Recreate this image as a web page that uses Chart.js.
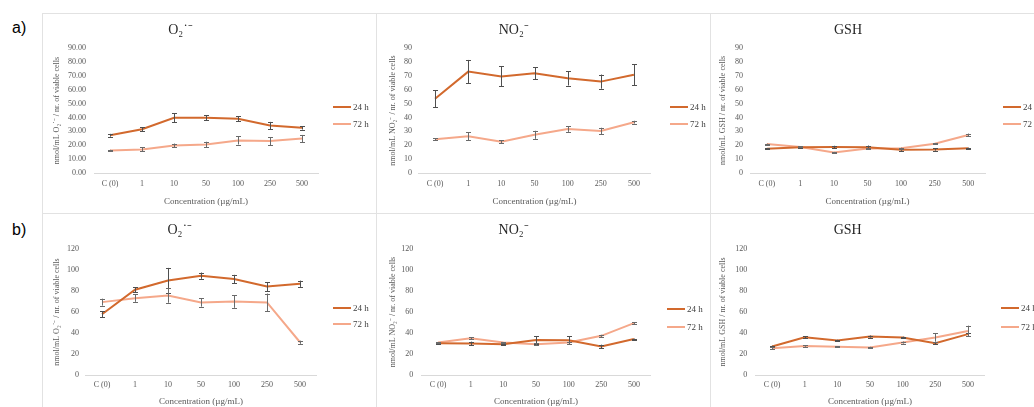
<!DOCTYPE html>
<html><head><meta charset="utf-8">
<script src="https://cdn.jsdelivr.net/npm/chart.js@4/dist/chart.umd.min.js"></script>
<style>
html,body{margin:0;padding:0;background:#fff;width:1034px;height:407px;overflow:hidden;position:relative;font-family:"Liberation Serif",serif;}
.vl{position:absolute;width:1px;background:#e2e2e2;}
.hl{position:absolute;height:1px;background:#e2e2e2;}
canvas{position:absolute;}
.lab{position:absolute;font-family:"Liberation Sans",Arial,sans-serif;font-size:16px;color:#000;line-height:16px;}
.leg{position:absolute;font-size:9px;color:#404040;line-height:10px;white-space:nowrap;}
.leg span{display:inline-block;width:18px;height:2px;vertical-align:middle;margin-right:2px;position:relative;top:-1px;}
</style></head><body>
<div class="hl" style="left:42px;top:13px;width:992px"></div>
<div class="hl" style="left:42px;top:213px;width:992px"></div>
<div class="vl" style="left:42px;top:13px;height:394px"></div>
<div class="vl" style="left:376px;top:13px;height:394px"></div>
<div class="vl" style="left:710px;top:13px;height:394px"></div>
<div class="lab" style="left:12px;top:20px">a)</div>
<div class="lab" style="left:12px;top:222px">b)</div>
<script>
// ---- data ----
const categories = ['C (0)', '1', '10', '50', '100', '250', '500'];
const seriesNames = ['24 h', '72 h'];
const xAxisTitle = 'Concentration (µg/mL)';
const panelTitles = ['O₂˙⁻', 'NO₂⁻', 'GSH'];
const yTitlesA = ['nmol/mL O₂˙⁻ / nr. of viable cells', 'nmol/mL NO₂⁻ / nr. of viable cells', 'nmol/mL GSH / nr. of viable cells'];
const yTitlesB = ['nmol/mL O₂˙⁻ / nr. of viable cells', 'nmol/mL NO₂⁻ / nr. of viable cells', 'nmol/mL GSH / nr. of viable cells'];

// a) O2
const aO2_24 = [27.2, 31.5, 39.8, 39.8, 39.0, 34.2, 32.5];
const aO2_24err = [1.0, 1.4, 3.4, 1.8, 1.8, 2.6, 1.2];
const aO2_72 = [16.2, 17.0, 19.8, 20.6, 23.4, 23.0, 24.8];
const aO2_72err = [0.5, 1.4, 1.4, 1.9, 2.9, 2.9, 2.6];
// a) NO2
const aNO2_24 = [53.5, 73.0, 69.5, 71.8, 68.2, 65.8, 70.8];
const aNO2_24err = [6.0, 8.4, 7.2, 4.2, 5.2, 5.1, 7.6];
const aNO2_72 = [24.3, 26.5, 22.5, 27.5, 31.6, 30.3, 36.6];
const aNO2_72err = [0.8, 2.9, 1.0, 2.9, 2.0, 2.3, 1.0];
// a) GSH
const aGSH_24 = [17.4, 18.6, 18.8, 18.6, 16.8, 16.9, 17.9];
const aGSH_24err = [0.3, 0.8, 0.8, 1.2, 0.8, 0.8, 0.4];
const aGSH_72 = [20.8, 18.8, 14.8, 17.6, 17.8, 21.0, 27.4];
const aGSH_72err = [0.3, 0.4, 0.4, 0.6, 0.4, 0.4, 1.0];
// b) O2
const bO2_24 = [57.8, 81.2, 90.0, 94.6, 91.4, 84.2, 86.9];
const bO2_24err = [2.9, 2.2, 12.0, 3.0, 4.0, 4.3, 3.0];
const bO2_72 = [69.4, 73.2, 75.8, 69.1, 70.0, 69.1, 31.2];
const bO2_72err = [3.3, 3.5, 7.0, 4.0, 6.0, 8.5, 1.5];
// b) NO2
const bNO2_24 = [30.3, 30.0, 29.4, 33.4, 33.1, 27.1, 34.2];
const bNO2_24err = [0.5, 1.8, 0.5, 3.5, 3.8, 1.8, 0.5];
const bNO2_72 = [30.9, 35.0, 30.9, 29.4, 30.9, 37.3, 49.4];
const bNO2_72err = [0.5, 0.8, 0.5, 1.0, 1.0, 1.0, 0.8];
// b) GSH
const bGSH_24 = [27.1, 36.0, 32.8, 36.6, 35.7, 30.3, 38.9];
const bGSH_24err = [0.8, 1.0, 0.8, 1.0, 0.8, 0.8, 1.5];
const bGSH_72 = [25.5, 27.7, 26.8, 26.1, 30.9, 35.7, 42.0];
const bGSH_72err = [0.8, 0.8, 0.5, 0.8, 1.0, 4.0, 5.0];

// ---- styles / layout ----
const SERIF = '"Liberation Serif", "Times New Roman", serif';
const C24 = '#D2692D';
const C72 = '#F5A88A';
const TICK = '#595959';

const rowA = {ct: 14, ch: 199, T: 48, B: 173, titleY: 30, xTitleY: 202, xTickPad: 6, yMax: 90, step: 10};
const rowB = {ct: 214, ch: 193, T: 249, B: 375, titleY: 230, xTitleY: 402, xTickPad: 5.5, yMax: 120, step: 20};

const panels = [
  {row: rowA, cl: 43, L: 94, R: 318, yTitleX: 57, yTickPad: 8, legX: 333, legY: [107, 124], title: panelTitles[0], yTitle: yTitlesA[0], dec: 2,
   d24: aO2_24, e24: aO2_24err, d72: aO2_72, e72: aO2_72err},
  {row: rowA, cl: 377, L: 418.5, R: 650.5, yTitleX: 393, yTickPad: 6.5, legX: 670, legY: [107, 124], title: panelTitles[1], yTitle: yTitlesA[1], dec: 0,
   d24: aNO2_24, e24: aNO2_24err, d72: aNO2_72, e72: aNO2_72err},
  {row: rowA, cl: 711, L: 750, R: 985, yTitleX: 723, yTickPad: 7, legX: 1003, legY: [107, 124], title: panelTitles[2], yTitle: yTitlesA[2], dec: 0,
   d24: aGSH_24, e24: aGSH_24err, d72: aGSH_72, e72: aGSH_72err},
  {row: rowB, cl: 43, L: 85.5, R: 316.5, yTitleX: 57, yTickPad: 6.5, legX: 333, legY: [308, 324], title: panelTitles[0], yTitle: yTitlesB[0], dec: 0,
   d24: bO2_24, e24: bO2_24err, d72: bO2_72, e72: bO2_72err},
  {row: rowB, cl: 377, L: 421.7, R: 650.3, yTitleX: 393, yTickPad: 8.5, legX: 667, legY: [309, 327], title: panelTitles[1], yTitle: yTitlesB[1], dec: 0,
   d24: bNO2_24, e24: bNO2_24err, d72: bNO2_72, e72: bNO2_72err},
  {row: rowB, cl: 711, L: 755.7, R: 984.3, yTitleX: 723, yTickPad: 8.5, legX: 1001, legY: [308, 327], title: panelTitles[2], yTitle: yTitlesB[2], dec: 0,
   d24: bGSH_24, e24: bGSH_24err, d72: bGSH_72, e72: bGSH_72err}
];

const errorBars = {
  id: 'errorBars',
  afterDatasetsDraw(chart) {
    const ctx = chart.ctx, ys = chart.scales.y;
    chart.data.datasets.forEach((ds, di) => {
      if (!ds.errors) return;
      const meta = chart.getDatasetMeta(di);
      ctx.save();
      ctx.strokeStyle = ds.errorColor;
      ctx.lineWidth = 1;
      meta.data.forEach((pt, i) => {
        const v = ds.data[i], e = ds.errors[i];
        const yt = ys.getPixelForValue(v + e), yb = ys.getPixelForValue(v - e);
        const x = Math.round(pt.x) + 0.5;
        ctx.beginPath();
        ctx.moveTo(x, yt); ctx.lineTo(x, yb);
        ctx.moveTo(x - 2.5, Math.round(yt) + 0.5); ctx.lineTo(x + 2.5, Math.round(yt) + 0.5);
        ctx.moveTo(x - 2.5, Math.round(yb) + 0.5); ctx.lineTo(x + 2.5, Math.round(yb) + 0.5);
        ctx.stroke();
      });
      ctx.restore();
    });
  }
};

const CW = 333;
panels.forEach(p => {
  const r = p.row;
  const cv = document.createElement('canvas');
  cv.width = CW; cv.height = r.ch;
  cv.style.left = p.cl + 'px'; cv.style.top = r.ct + 'px';
  cv.style.width = CW + 'px'; cv.style.height = r.ch + 'px';
  document.body.appendChild(cv);

  const tp = r.titleY - r.ct - 8.4;
  const bp = (r.T - r.ct) - tp - 16.8;
  const xTitlePadBottom = Math.max(0, r.ct + r.ch - 5.4 - r.xTitleY);
  const yTitlePadTop = p.yTitleX - p.cl - 4.8;

  new Chart(cv, {
    type: 'line',
    data: {
      labels: categories,
      datasets: [
        {label: seriesNames[0], data: p.d24, errors: p.e24, errorColor: '#4f4f4f', borderColor: C24, backgroundColor: C24,
         borderWidth: 2, pointRadius: 0, tension: 0},
        {label: seriesNames[1], data: p.d72, errors: p.e72, errorColor: '#6a6a6a', borderColor: C72, backgroundColor: C72,
         borderWidth: 2, pointRadius: 0, tension: 0}
      ]
    },
    options: {
      responsive: false, animation: false, devicePixelRatio: 1,
      layout: {padding: {left: 0, top: 0, bottom: 0, right: p.cl + CW - p.R}},
      plugins: {
        legend: {display: false},
        tooltip: {enabled: false},
        title: {display: true, text: p.title, color: '#262626',
                font: {family: SERIF, size: 14, weight: 'normal'}, padding: {top: tp, bottom: bp}}
      },
      scales: {
        x: {
          type: 'category', offset: true,
          grid: {display: false, drawTicks: false},
          border: {display: true, color: '#d9d9d9', width: 1},
          ticks: {color: TICK, font: {family: SERIF, size: 8}, padding: r.xTickPad, maxRotation: 0, autoSkip: false},
          title: {display: true, text: xAxisTitle, color: TICK, font: {family: SERIF, size: 9}, padding: {top: 0, bottom: xTitlePadBottom}},
          afterFit(s) { s.height = r.ct + r.ch - r.B; }
        },
        y: {
          min: 0, max: r.yMax,
          grid: {display: false, drawTicks: false},
          border: {display: false},
          ticks: {stepSize: r.step, color: TICK, font: {family: SERIF, size: 8}, padding: p.yTickPad,
                  callback: v => Number(v).toFixed(p.dec)},
          title: {display: true, text: p.yTitle, color: TICK, font: {family: SERIF, size: 8}, padding: {top: yTitlePadTop, bottom: 0}},
          afterFit(s) { s.width = p.L - p.cl; }
        }
      }
    },
    plugins: [errorBars]
  });

  // legend
  [[seriesNames[0], C24], [seriesNames[1], C72]].forEach((it, i) => {
    const d = document.createElement('div');
    d.className = 'leg';
    d.style.left = p.legX + 'px';
    d.style.top = (p.legY[i] - 5) + 'px';
    const s = document.createElement('span');
    s.style.background = it[1];
    d.appendChild(s);
    d.appendChild(document.createTextNode(it[0]));
    document.body.appendChild(d);
  });
});
</script>
</body></html>
